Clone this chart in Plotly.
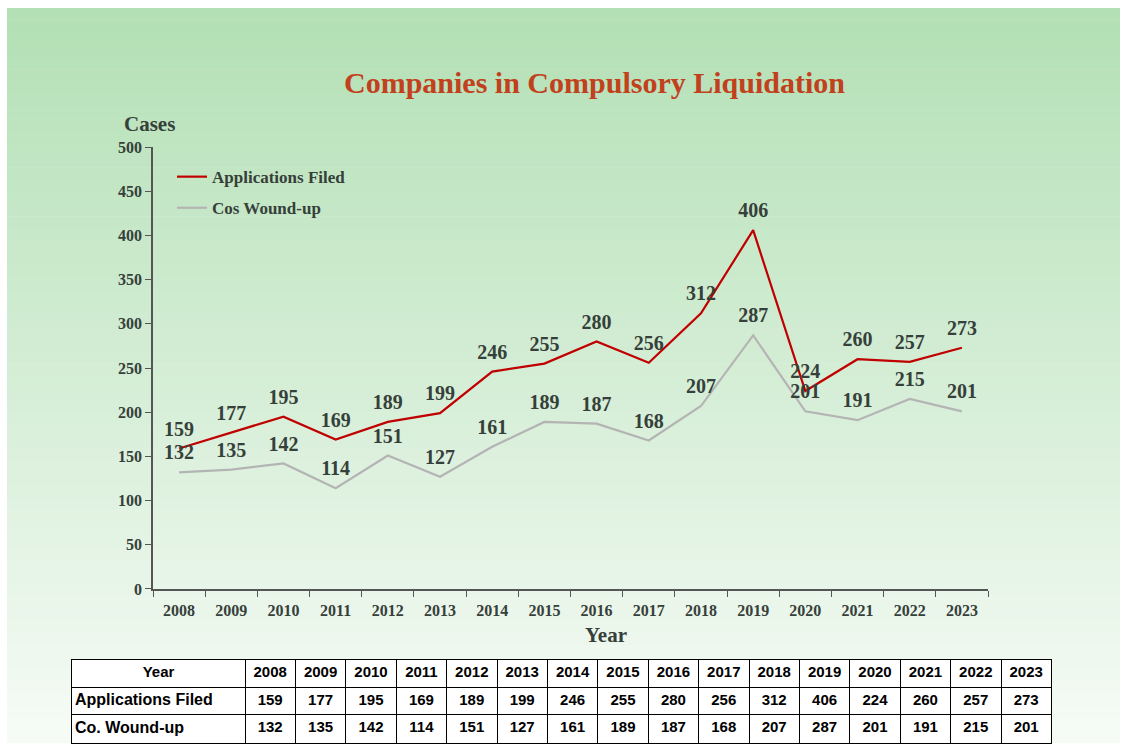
import plotly.graph_objects as go

years = [str(y) for y in range(2008, 2024)]
applications = [159, 177, 195, 169, 189, 199, 246, 255, 280, 256, 312, 406, 224, 260, 257, 273]
wound_up = [132, 135, 142, 114, 151, 127, 161, 189, 187, 168, 207, 287, 201, 191, 215, 201]
row_labels = ["Year", "Applications Filed", "Co. Wound-up"]

W, H = 1126, 752
TXT = "#36403a"
SERIF = "Liberation Serif, Times New Roman, serif"
SANS = "Liberation Sans, Arial, sans-serif"

# the page gets photographed slightly squeezed vertically, so map the
# wanted screen pixel back to paper coordinates
SY, OY = 0.98, 7.5


def px(x):
    return x / W


def py(y):
    v = 1 - ((y - OY) / SY) / H
    return min(1, max(0, v))


fig = go.Figure()

# green vertical gradient behind everything
shapes = []
n = 60
top, bot = (179, 224, 181), (246, 251, 246)
for i in range(n):
    t = i / (n - 1)
    c = tuple(round(top[k] + (bot[k] - top[k]) * t) for k in range(3))
    shapes.append(dict(
        type="rect", xref="paper", yref="paper", layer="below",
        x0=px(7), x1=px(1120), y0=max(0, 1 - (i + 1.05) / n), y1=1 - i / n,
        fillcolor="rgb(%d,%d,%d)" % c, line=dict(width=0),
    ))

for i, (name, vals, color) in enumerate([("Applications Filed", applications, "#c00000"),
                                         ("Cos Wound-up", wound_up, "#b4b4b4")]):
    fig.add_trace(go.Scatter(
        x=years, y=vals, name=name, legendgroup="g%d" % i,
        mode="lines+markers+text", text=[str(v) for v in vals],
        textposition="top center",
        textfont=dict(family=SERIF, size=20, color=TXT, weight="bold"),
        line=dict(color=color, width=2.2),
        marker=dict(size=11, color="rgba(0,0,0,0)"),
        cliponaxis=False,
    ))

# data table under the chart, drawn on its own axes (x in table pixels)
col_w = [173] + [50.4] * 16
edges = [0]
for w in col_w:
    edges.append(edges[-1] + w)
centers = [(a + b) / 2 for a, b in zip(edges[:-1], edges[1:])]

shapes.append(dict(
    type="rect", xref="x2 domain", yref="y2 domain", layer="below",
    x0=0, x1=1, y0=0, y1=1, fillcolor="white", line=dict(width=0),
))

cell_font = dict(family=SANS, size=15, color="black", weight="bold")
fig.add_trace(go.Scatter(
    x=centers, y=[0.5] * 17,
    text=[row_labels[0]] + years, mode="text", textposition="middle center",
    textfont=cell_font, xaxis="x2", yaxis="y2", showlegend=False,
    hoverinfo="skip",
))
fig.add_trace(go.Scatter(
    x=[3, 3], y=[1.5, 2.5], text=row_labels[1:], mode="text",
    textposition="middle right",
    textfont=dict(family=SANS, size=16, color="black", weight="bold"),
    xaxis="x2", yaxis="y2", showlegend=False, hoverinfo="skip",
))
for r, vals in [(1.5, applications), (2.5, wound_up)]:
    fig.add_trace(go.Scatter(
        x=centers[1:], y=[r] * len(vals), text=[str(v) for v in vals],
        mode="text", textposition="middle center", textfont=cell_font,
        xaxis="x2", yaxis="y2", showlegend=False, hoverinfo="skip",
    ))

fig.update_layout(
    width=W, height=H,
    margin=dict(l=0, r=0, t=0, b=0),
    paper_bgcolor="white",
    plot_bgcolor="rgba(0,0,0,0)",
    shapes=shapes,
    showlegend=True,
    legend=dict(
        x=px(172), y=py(159), xanchor="left", yanchor="top",
        bgcolor="rgba(0,0,0,0)", itemwidth=30, tracegroupgap=6,
        font=dict(family=SERIF, size=17, color=TXT, weight="bold"),
    ),
    xaxis=dict(
        domain=[px(153), px(988)], type="category", range=[-0.5, 15.5],
        tickson="boundaries", ticks="outside", ticklen=6, tickcolor="#555",
        ticklabelstandoff=6,
        showline=True, linecolor="#555", linewidth=1.5, showgrid=False,
        tickfont=dict(family=SERIF, size=16, color=TXT, weight="bold"),
    ),
    yaxis=dict(
        domain=[py(590), py(147)], range=[0, 500], dtick=50,
        ticks="outside", ticklen=6, tickcolor="#555",
        showline=True, linecolor="#555", linewidth=1.5, showgrid=False,
        zeroline=False,
        tickfont=dict(family=SERIF, size=16, color=TXT, weight="bold"),
    ),
    xaxis2=dict(
        domain=[px(72), px(72 + edges[-1])], range=[0, edges[-1]],
        anchor="y2", tickvals=edges, showticklabels=False, ticks="",
        showgrid=True, gridcolor="black", gridwidth=1, zeroline=False,
        showline=True, mirror=True, linecolor="black", linewidth=1,
        fixedrange=True,
    ),
    yaxis2=dict(
        domain=[py(744), py(661)], range=[3, 0], anchor="x2",
        tickvals=[0, 1, 2, 3], showticklabels=False, ticks="",
        showgrid=True, gridcolor="black", gridwidth=1, zeroline=False,
        showline=True, mirror=True, linecolor="black", linewidth=1,
        fixedrange=True,
    ),
    annotations=[
        dict(text="<b>Companies in Compulsory Liquidation</b>", x=px(594), y=py(82),
             xref="paper", yref="paper", showarrow=False,
             xanchor="center", yanchor="middle",
             font=dict(family=SERIF, size=30, color="#c2401c")),
        dict(text="<b>Cases</b>", x=px(149), y=py(124),
             xref="paper", yref="paper", showarrow=False,
             xanchor="center", yanchor="middle",
             font=dict(family=SERIF, size=21, color=TXT)),
        dict(text="<b>Year</b>", x=px(606), y=py(636),
             xref="paper", yref="paper", showarrow=False,
             xanchor="center", yanchor="middle",
             font=dict(family=SERIF, size=21, color=TXT)),
    ],
)

page_fix = "document.body.style.margin='0';"
fig.write_html("out.html", config={"displayModeBar": False}, post_script=page_fix)
